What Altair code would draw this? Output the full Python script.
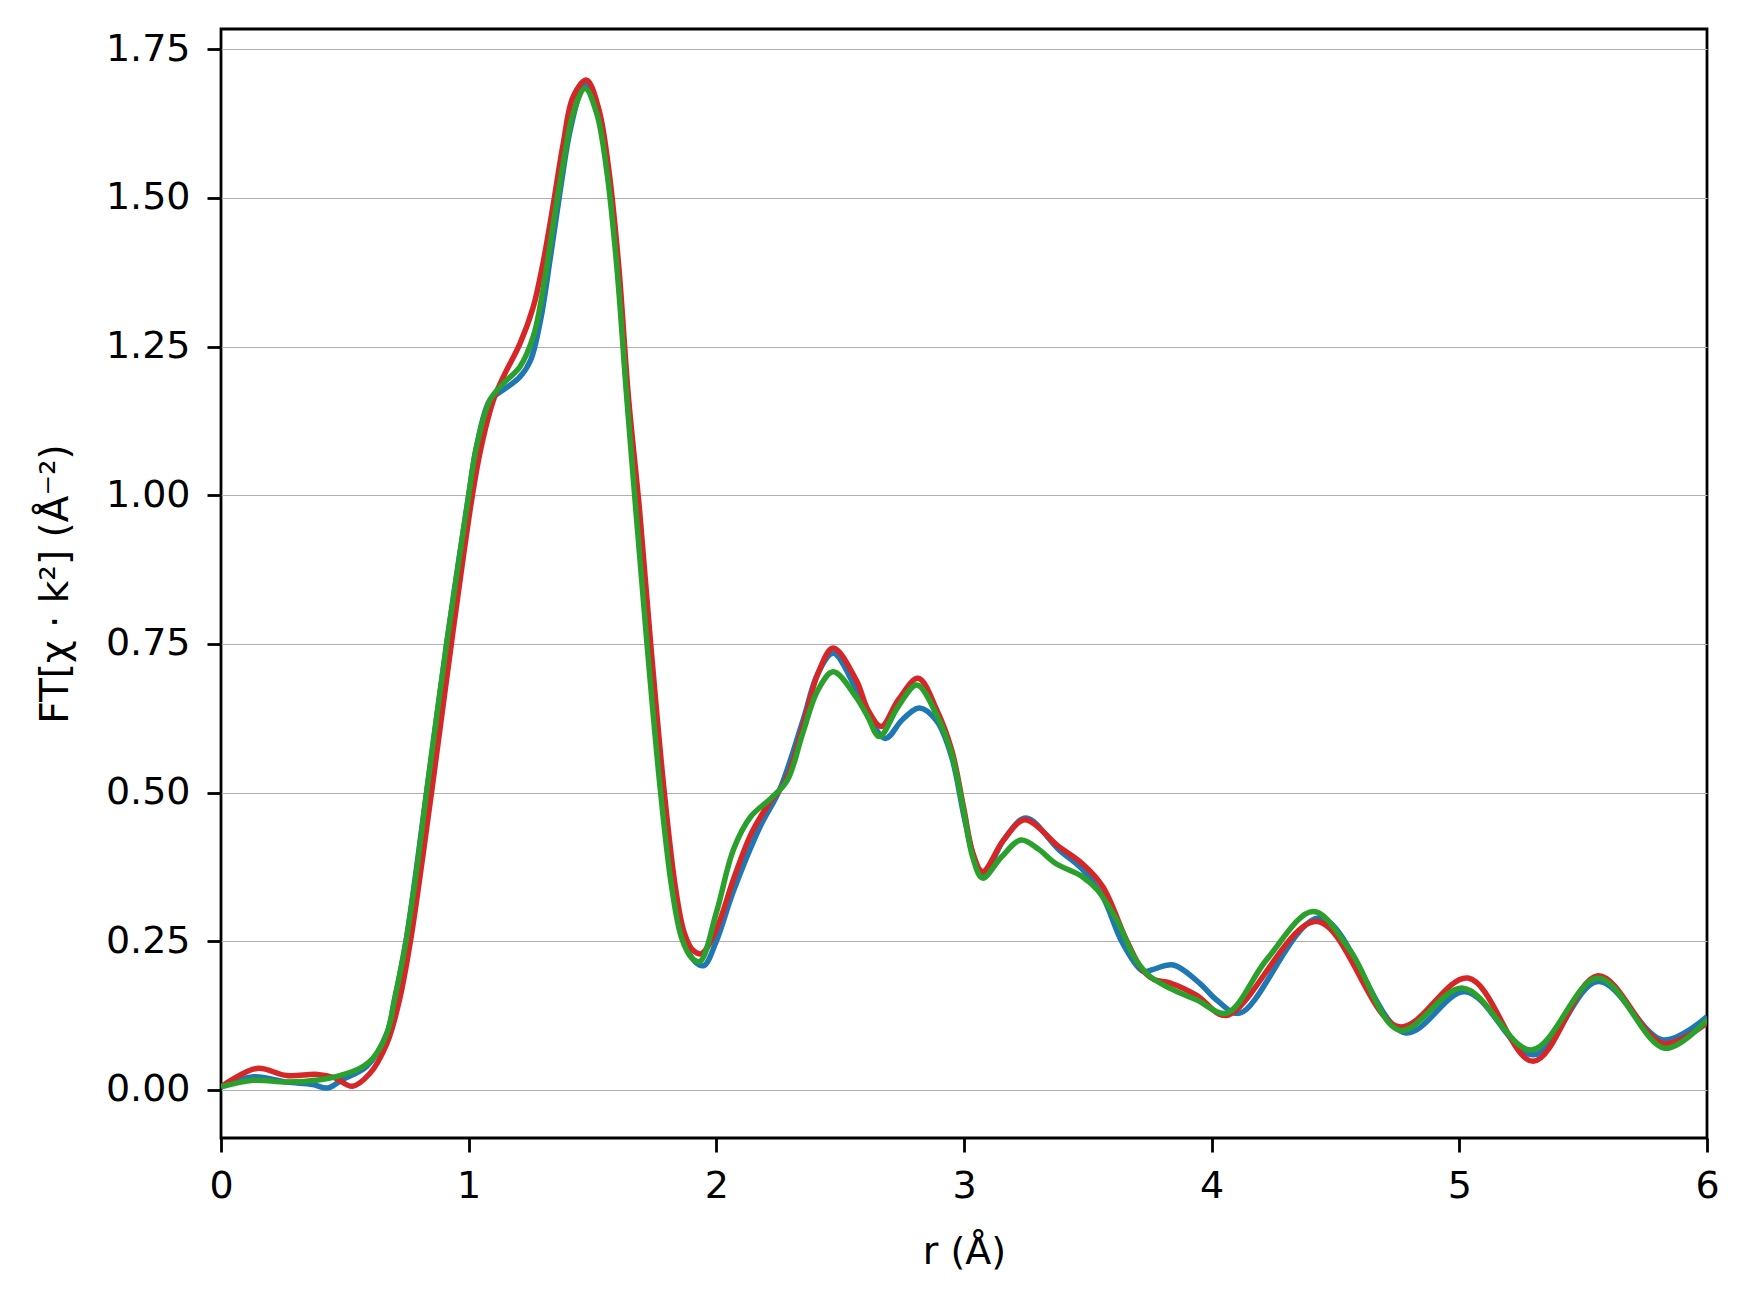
import altair as alt
import pandas as pd

# ---- data (r in Å, FT magnitude) ----
B_r = [0.00, 0.13, 0.265, 0.37, 0.43, 0.49, 0.59, 0.67, 0.70, 0.747, 0.83, 0.911, 1.00, 1.032, 1.086, 1.14, 1.207, 1.25, 1.29, 1.33, 1.37, 1.41, 1.46, 1.475, 1.52, 1.56, 1.60, 1.64, 1.68, 1.725, 1.78, 1.825, 1.865, 1.915, 1.95, 2.0, 2.068, 2.176, 2.256, 2.349, 2.41, 2.472, 2.57, 2.681, 2.75, 2.82, 2.89, 2.95, 3.0, 3.04, 3.075, 3.16, 3.25, 3.383, 3.48, 3.56, 3.64, 3.724, 3.76, 3.845, 3.952, 4.02, 4.114, 4.437, 4.78, 5.025, 5.30, 5.56, 5.822, 6.0]
B_v = [0.005, 0.022, 0.013, 0.009, 0.003, 0.017, 0.04, 0.095, 0.15, 0.25, 0.50, 0.75, 1.00, 1.082, 1.16, 1.177, 1.199, 1.227, 1.294, 1.40, 1.513, 1.614, 1.688, 1.692, 1.645, 1.55, 1.39, 1.166, 0.975, 0.75, 0.50, 0.34, 0.255, 0.215, 0.209, 0.25, 0.333, 0.442, 0.505, 0.62, 0.70, 0.734, 0.67, 0.591, 0.622, 0.642, 0.62, 0.56, 0.46, 0.39, 0.358, 0.42, 0.457, 0.404, 0.37, 0.325, 0.247, 0.199, 0.202, 0.21, 0.179, 0.151, 0.129, 0.289, 0.096, 0.165, 0.059, 0.182, 0.084, 0.123]

R_r = [0.00, 0.145, 0.265, 0.39, 0.46, 0.53, 0.60, 0.67, 0.72, 0.765, 0.85, 0.93, 1.015, 1.05, 1.10, 1.14, 1.207, 1.261, 1.30, 1.342, 1.382, 1.422, 1.476, 1.525, 1.565, 1.605, 1.645, 1.69, 1.735, 1.79, 1.835, 1.87, 1.905, 1.94, 2.0, 2.07, 2.14, 2.21, 2.28, 2.349, 2.41, 2.472, 2.565, 2.612, 2.666, 2.735, 2.815, 2.89, 2.95, 2.998, 3.036, 3.075, 3.16, 3.245, 3.383, 3.476, 3.56, 3.656, 3.72, 3.77, 3.83, 3.94, 4.06, 4.424, 4.757, 5.035, 5.298, 5.56, 5.822, 6.0]
R_v = [0.005, 0.036, 0.024, 0.026, 0.020, 0.006, 0.027, 0.078, 0.15, 0.25, 0.50, 0.75, 1.00, 1.08, 1.16, 1.199, 1.255, 1.317, 1.39, 1.49, 1.592, 1.67, 1.698, 1.65, 1.55, 1.39, 1.166, 0.975, 0.75, 0.50, 0.34, 0.265, 0.235, 0.229, 0.27, 0.355, 0.43, 0.48, 0.52, 0.611, 0.70, 0.743, 0.689, 0.639, 0.611, 0.656, 0.692, 0.639, 0.572, 0.476, 0.398, 0.367, 0.42, 0.454, 0.409, 0.381, 0.342, 0.252, 0.202, 0.185, 0.18, 0.159, 0.125, 0.283, 0.106, 0.188, 0.048, 0.192, 0.078, 0.113]

G_r = [0.00, 0.13, 0.265, 0.40, 0.48, 0.56, 0.615, 0.67, 0.70, 0.747, 0.79, 0.83, 0.87, 0.911, 0.955, 1.00, 1.032, 1.086, 1.14, 1.207, 1.261, 1.30, 1.342, 1.382, 1.422, 1.47, 1.517, 1.557, 1.597, 1.638, 1.675, 1.72, 1.775, 1.82, 1.86, 1.90, 1.934, 2.0, 2.07, 2.14, 2.22, 2.287, 2.349, 2.41, 2.472, 2.565, 2.612, 2.658, 2.735, 2.81, 2.89, 2.95, 2.998, 3.036, 3.075, 3.152, 3.23, 3.30, 3.369, 3.476, 3.539, 3.616, 3.693, 3.75, 3.83, 3.94, 4.06, 4.222, 4.41, 4.558, 4.76, 5.015, 5.291, 5.56, 5.829, 6.0]
G_v = [0.005, 0.016, 0.013, 0.017, 0.024, 0.036, 0.054, 0.095, 0.15, 0.25, 0.37, 0.50, 0.625, 0.75, 0.875, 1.00, 1.082, 1.16, 1.188, 1.216, 1.267, 1.345, 1.457, 1.558, 1.642, 1.684, 1.642, 1.547, 1.39, 1.166, 0.975, 0.75, 0.50, 0.34, 0.255, 0.222, 0.216, 0.298, 0.405, 0.46, 0.49, 0.521, 0.60, 0.672, 0.703, 0.66, 0.627, 0.594, 0.645, 0.681, 0.63, 0.565, 0.47, 0.39, 0.356, 0.392, 0.42, 0.405, 0.381, 0.359, 0.336, 0.286, 0.219, 0.191, 0.171, 0.151, 0.129, 0.219, 0.30, 0.235, 0.10, 0.171, 0.067, 0.188, 0.07, 0.118]

SERIES = [("blue", B_r, B_v, "#1f77b4"),
          ("red", R_r, R_v, "#d62728"),
          ("green", G_r, G_v, "#2ca02c")]

X_TICKS = [0, 1, 2, 3, 4, 5, 6]
Y_TICKS = [0.0, 0.25, 0.5, 0.75, 1.0, 1.25, 1.5, 1.75]

FONT = "DejaVu Sans"

x_enc = alt.X(
    "r:Q",
    scale=alt.Scale(domain=[0, 6], nice=False, zero=False),
    axis=alt.Axis(values=X_TICKS, format="d", grid=False, domain=False,
                  tickColor="black", tickWidth=2.8, tickSize=14,
                  labelFont=FONT, labelFontSize=38, labelColor="black",
                  labelPadding=15, labelFlush=False,
                  title="r (Å)", titleFont=FONT, titleFontSize=38,
                  titleFontWeight="normal", titleColor="black", titlePadding=28),
)
y_enc = alt.Y(
    "v:Q",
    scale=alt.Scale(domain=[-0.081, 1.784], nice=False, zero=False),
    axis=alt.Axis(values=Y_TICKS, format=".2f", grid=True, gridColor="#b0b0b0",
                  gridWidth=1.2, domain=False,
                  tickColor="black", tickWidth=2.8, tickSize=14,
                  labelFont=FONT, labelFontSize=38, labelColor="black",
                  labelPadding=17, labelFlush=False,
                  title="FT[χ · k²] (Å⁻²)", titleFont=FONT, titleFontSize=39,
                  titleFontWeight="normal", titleColor="black", titlePadding=30),
)

layers = []
for name, rs, vs, color in SERIES:
    df = pd.DataFrame({"r": rs, "v": vs, "series": name})
    layers.append(
        alt.Chart(df).mark_line(color=color, strokeWidth=5.5,
                                interpolate="catmull-rom", clip=True)
        .encode(x=x_enc, y=y_enc)
    )

chart = (
    alt.layer(*layers)
    .properties(width=1486, height=1109, autosize="none",
                padding={"left": 213, "top": 21, "right": 35, "bottom": 150})
    .configure(background="white")
    .configure_view(stroke="black", strokeWidth=2.8)
)

chart.save("out.html", embed_options={"renderer": "svg", "actions": False})
